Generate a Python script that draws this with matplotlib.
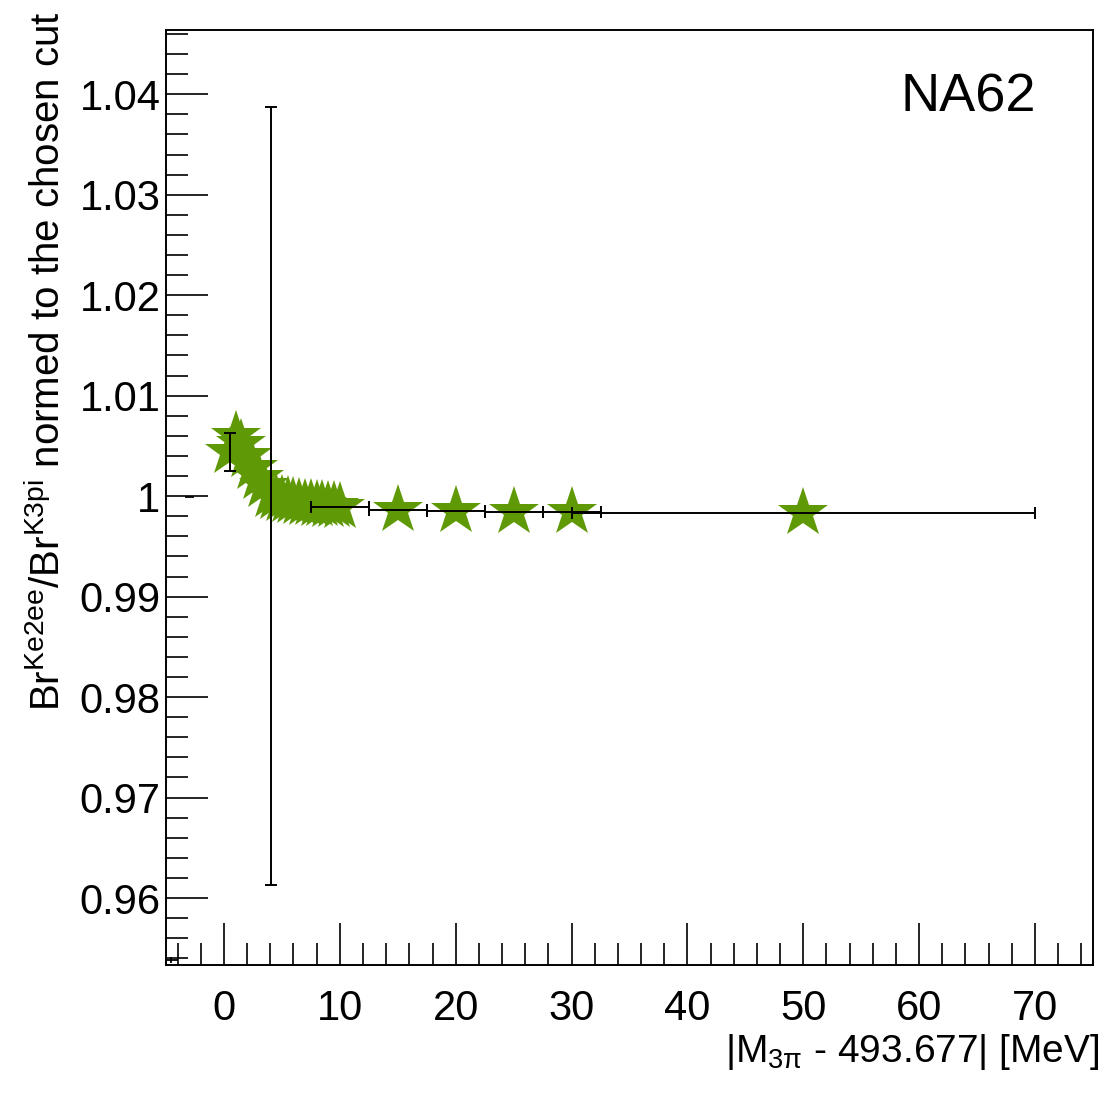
import numpy as np
import matplotlib.pyplot as plt
from matplotlib.ticker import MultipleLocator

plt.rcParams['font.family'] = ['Liberation Sans', 'DejaVu Sans']
plt.rcParams['mathtext.fontset'] = 'custom'
plt.rcParams['mathtext.rm'] = 'Liberation Sans'
plt.rcParams['mathtext.it'] = 'Liberation Sans:italic'

# cut value |M3pi - mK| [MeV], ratio normed to chosen cut, errors
cut = [0.5, 1.0, 1.5, 2.0, 2.5, 3.0, 3.5, 4.05, 4.5, 5.0, 5.5, 6.0, 6.5, 7.0,
       7.5, 8.0, 8.5, 9.0, 9.5, 10.0, 15.0, 20.0, 25.0, 30.0, 50.0]
ratio = [1.0044, 1.0060, 1.0052, 1.0040, 1.0028, 1.0018, 1.0010, 1.0000, 0.9998,
         0.9996, 0.9995, 0.9994, 0.9993, 0.9992, 0.9992, 0.9991, 0.9991, 0.9990,
         0.9990, 0.9989, 0.9986, 0.9985, 0.99845, 0.9984, 0.9983]
ratio_err = [0.0019, 0, 0, 0, 0, 0, 0, 0.0387, 0, 0, 0, 0, 0, 0,
             0, 0, 0, 0, 0, 0, 0, 0, 0, 0, 0]
cut_err = [0, 0, 0, 0, 0, 0, 0, 0, 0, 0, 0, 0, 0, 0,
           0, 0, 0, 0, 0, 2.5, 2.5, 2.5, 2.5, 2.5, 20.0]

# stray short bars left of the cluster and in the lower left corner
extra_x = [-2.95, -4.55]
extra_y = [0.9999, 0.9538]
extra_xerr = [0.4, 0.55]
extra_yerr = [0, 0.0003]

fig = plt.figure(figsize=(11.06, 10.94), dpi=100)
ax = fig.add_axes([0.1501, 0.1179, 0.8381, 0.8547])

ax.plot(cut, ratio, linestyle='none', marker='*', markersize=38,
        color='#5f9a06', markeredgewidth=0, zorder=2)

for x, y, ex, ey in zip(cut, ratio, cut_err, ratio_err):
    if ex == 0 and ey == 0:
        continue
    ax.errorbar(x, y, xerr=ex if ex else None, yerr=ey if ey else None,
                fmt='none', ecolor='black', elinewidth=1.4, capsize=4,
                capthick=1.4, zorder=3)

for x, y, ex, ey in zip(extra_x, extra_y, extra_xerr, extra_yerr):
    ax.errorbar(x, y, xerr=ex, yerr=ey if ey else None, fmt='none',
                ecolor='black', elinewidth=1.3, capsize=0, zorder=3)

ax.set_xlim(-5, 75)
ax.set_ylim(0.95333, 1.0464)

ax.xaxis.set_major_locator(MultipleLocator(10))
ax.xaxis.set_minor_locator(MultipleLocator(2))
ax.yaxis.set_major_locator(MultipleLocator(0.01))
ax.yaxis.set_minor_locator(MultipleLocator(0.002))
ax.yaxis.set_major_formatter(plt.FuncFormatter(
    lambda v, p: '1' if abs(v - 1) < 1e-9 else '%.2f' % v))

ax.tick_params(which='both', direction='in', top=False, right=False,
               width=1.2, labelsize=30)
ax.tick_params(which='major', length=30)
ax.tick_params(which='minor', length=16)
ax.tick_params(axis='x', pad=17)
ax.tick_params(axis='y', pad=4)
for s in ax.spines.values():
    s.set_linewidth(1.4)

fig.text(1100 / 1106, 1 - 1052 / 1094,
         r'|M$_{\mathregular{3\pi}}$ - 493.677| [MeV]',
         ha='right', va='center', fontsize=28)
fig.text(0.043, 0.99,
         r'Br$^{\mathregular{Ke2ee}}$/Br$^{\mathregular{K3pi}}$ normed to the chosen cut',
         rotation=90, ha='center', va='top', fontsize=29)
fig.text(1036 / 1106, 1 - 98 / 1094, 'NA62', ha='right', va='center',
         fontsize=39)

fig.savefig('out.png', dpi=100)
